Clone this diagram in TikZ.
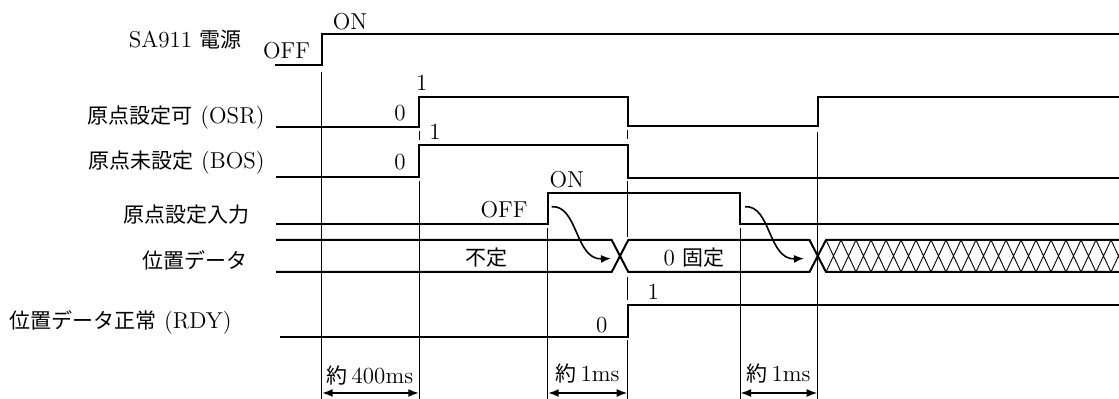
\documentclass[tikz,border=0pt]{standalone}
\usepackage{fontspec}
\newfontfamily\jpf{Noto Sans CJK JP}[Scale=0.913]
\usetikzlibrary{arrows.meta}

\begin{document}
\begin{tikzpicture}[x=0.5pt, y=-0.5pt,
    sig/.style={line width=1pt, line join=miter},
    guide/.style={line width=0.5pt},
    hatch/.style={line width=0.45pt},
    lbl/.style={anchor=east, inner sep=0pt, font=\fontsize{11.5}{13}\selectfont},
    val/.style={inner sep=0pt, font=\fontsize{11.5}{13}\selectfont},
    dim/.style={line width=1pt, {Latex[length=5.5pt,width=4pt]}-{Latex[length=5.5pt,width=4pt]}},
    flow/.style={line width=0.8pt, -{Latex[length=5pt,width=4pt]}}]
  \useasboundingbox (0,0) rectangle (1119,399);

  \node[lbl] (pow) at (242,40) {SA911 {\jpf 電源}};
  \node[lbl] (osr) at (265,118) {{\jpf 原点設定可} (OSR)};
  \node[lbl] (bos) at (265,163) {{\jpf 原点未設定} (BOS)};
  \node[lbl] (org) at (250,215) {\jpf 原点設定入力};
  \node[lbl] (pos) at (248,260) {\jpf 位置データ};
  \node[lbl] (rdy) at (232,322) {{\jpf 位置データ正常} (RDY)};

  \draw[sig] (275,65) -- (321.7,65) -- (321.7,34.5) -- (1119,34.5);
  \draw[sig] (276,127) -- (419.3,127) -- (419.3,96.7) -- (627.7,96.7)
    -- (627.7,125.7) -- (817.7,125.7) -- (817.7,96.7) -- (1119,96.7);
  \draw[sig] (276,176.7) -- (419.3,176.7) -- (419.3,145) -- (627.7,145)
    -- (627.7,177.7) -- (1119,177.7);
  \draw[sig] (276,224.3) -- (547.7,224.3) -- (547.7,192.7) -- (740,192.7)
    -- (740,224.3) -- (1119,224.3);
  \draw[sig] (276,240) -- (611.7,240) -- (628.3,272) -- (809.5,272) -- (826,240) -- (1119,240);
  \draw[sig] (276,272) -- (611.7,272) -- (628.3,240) -- (809.5,240) -- (826,272) -- (1119,272);
  \draw[sig] (280,336.7) -- (627.7,336.7) -- (627.7,305) -- (1119,305);

  \begin{scope}
    \clip (826,230) rectangle (1119,280);
    \foreach \i in {0,...,19}
      \draw[hatch] ({826+15*\i},240) -- ({841+15*\i},272)
                   ({826+15*\i},272) -- ({841+15*\i},240);
  \end{scope}

  \draw[guide] (321.7,72) -- (321.7,399);
  \draw[guide] (419.3,131) -- (419.3,140) (419.3,181) -- (419.3,399);
  \draw[guide] (547.7,228) -- (547.7,399);
  \draw[guide] (627.7,130) -- (627.7,139) (627.7,181) -- (627.7,236.7)
    (627.7,276.7) -- (627.7,300) (627.7,340) -- (627.7,399);
  \draw[guide] (740,228) -- (740,399);
  \draw[guide] (817.7,131.7) -- (817.7,399);

  \node[val] (powOn) at (350,22) {ON};
  \node[val] (powOff) at (286.5,51) {OFF};
  \node[val] (osr0) at (400,113) {0};
  \node[val] (osr1) at (421.7,83) {1};
  \node[val] (bos0) at (400,162) {0};
  \node[val] (bos1) at (435,132) {1};
  \node[val] (orgOn) at (566.7,180) {ON};
  \node[val] (orgOff) at (504,210) {OFF};
  \node[val] (posU) at (486.7,258) {\jpf 不定};
  \node[val] (posF) at (694,258) {0 {\jpf 固定}};
  \node[val] (rdy0) at (601.7,325) {0};
  \node[val] (rdy1) at (653.3,291.7) {1};

  \coordinate (f1a) at (551.7,206.7);
  \coordinate (f1b) at (611,258.5);
  \coordinate (f2a) at (745,206.7);
  \coordinate (f2b) at (804,258.5);
  \draw[flow] (f1a) .. controls (578,205) and (575,260) .. (f1b);
  \draw[flow] (f2a) .. controls (771,205) and (768,260) .. (f2b);

  \coordinate (d1a) at (321.7,393);
  \coordinate (d1b) at (419.3,393);
  \coordinate (d2a) at (547.7,393);
  \coordinate (d2b) at (627.7,393);
  \coordinate (d3a) at (740,393);
  \coordinate (d3b) at (817.7,393);
  \draw[dim] (d1a) -- (d1b);
  \draw[dim] (d2a) -- (d2b);
  \draw[dim] (d3a) -- (d3b);
  \node[val] (t1) at (370,376) {{\jpf 約}\,400ms};
  \node[val] (t2) at (587.7,374) {{\jpf 約}\,1ms};
  \node[val] (t3) at (778.7,374) {{\jpf 約}\,1ms};
\end{tikzpicture}
\end{document}
